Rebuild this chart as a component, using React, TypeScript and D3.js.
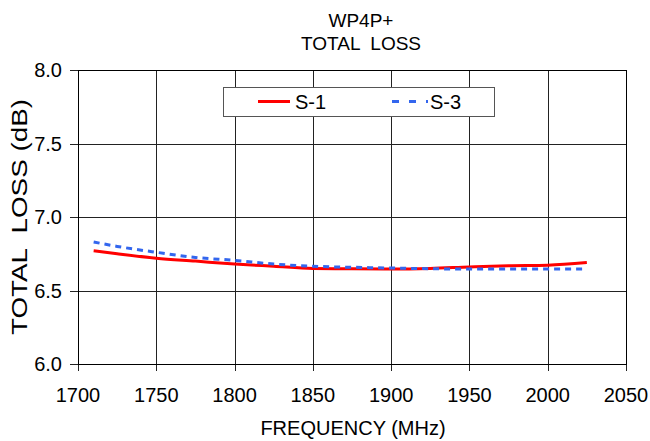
import React from 'react'
import * as d3 from 'd3'

// frequency (MHz) sampled along the curves
const freqs = [1710, 1725, 1750, 1775, 1800, 1825, 1850, 1875, 1900, 1925, 1950, 1975, 2000, 2025]
const s1 = [6.77, 6.75, 6.72, 6.7, 6.68, 6.665, 6.65, 6.648, 6.646, 6.65, 6.66, 6.668, 6.672, 6.69]
const s3 = [6.83, 6.8, 6.76, 6.725, 6.705, 6.68, 6.665, 6.658, 6.653, 6.648, 6.646, 6.646, 6.646, 6.646]
const xTicks = [1700, 1750, 1800, 1850, 1900, 1950, 2000, 2050]
const yTicks = [6.0, 6.5, 7.0, 7.5, 8.0]
const seriesNames = ['S-1', 'S-3']

const W = 650
const H = 441
const m = { left: 78, right: 626, top: 70, bottom: 364 }
const font = "'Liberation Sans', Arial, sans-serif"

export default function App() {
  const x = d3.scaleLinear().domain([1700, 2050]).range([m.left, m.right])
  const y = d3.scaleLinear().domain([6, 8]).range([m.bottom, m.top])

  const line = d3
    .line<number>()
    .x((_, i) => x(freqs[i]))
    .y((d) => y(d))
    .curve(d3.curveMonotoneX)

  const px = (v: number) => Math.round(v) + 0.5

  return (
    <svg
      width={W}
      height={H}
      style={{ position: 'absolute', left: 0, top: 0, background: '#fff' }}
      fontFamily={font}
    >
      {/* title */}
      <text x={361} y={27} textAnchor="middle" fontSize={19}>
        WP4P+
      </text>
      <text x={361} y={50} textAnchor="middle" fontSize={19} style={{ whiteSpace: 'pre' }}>
        {'TOTAL  LOSS'}
      </text>

      {/* grid */}
      <g stroke="#222" strokeWidth={1} shapeRendering="crispEdges">
        {xTicks.map((t) => (
          <line key={'gx' + t} x1={px(x(t))} x2={px(x(t))} y1={m.top} y2={m.bottom + 7} />
        ))}
        {yTicks.map((t) => (
          <line key={'gy' + t} x1={m.left - 8} x2={m.right} y1={px(y(t))} y2={px(y(t))} />
        ))}
        <rect
          x={px(m.left)}
          y={px(m.top)}
          width={Math.round(m.right - m.left)}
          height={Math.round(m.bottom - m.top)}
          fill="none"
          stroke="#000"
        />
      </g>

      {/* tick labels */}
      {xTicks.map((t) => (
        <text key={'tx' + t} x={x(t)} y={402} textAnchor="middle" fontSize={20}>
          {t}
        </text>
      ))}
      {yTicks.map((t) => (
        <text key={'ty' + t} x={62} y={y(t) + 7} textAnchor="end" fontSize={20}>
          {t.toFixed(1)}
        </text>
      ))}

      {/* axis titles */}
      <text x={353} y={435} textAnchor="middle" fontSize={20}>
        FREQUENCY (MHz)
      </text>
      <text
        transform={`translate(27,${(m.top + m.bottom) / 2}) rotate(-90)`}
        textAnchor="middle"
        fontSize={22}
        textLength={236}
        lengthAdjust="spacingAndGlyphs"
        style={{ whiteSpace: 'pre' }}
      >
        {'TOTAL  LOSS (dB)'}
      </text>

      {/* series */}
      <path d={line(s1) || ''} fill="none" stroke="#ff0000" strokeWidth={3} />
      <path
        d={line(s3) || ''}
        fill="none"
        stroke="#3366ee"
        strokeWidth={3}
        strokeDasharray="6,5"
      />

      {/* legend */}
      <g>
        <rect x={223.5} y={87.5} width={271} height={29} fill="#fff" stroke="#555" strokeWidth={1} />
        <line x1={258} x2={290} y1={101.5} y2={101.5} stroke="#ff0000" strokeWidth={3} />
        <text x={295} y={109} fontSize={20}>
          {seriesNames[0]}
        </text>
        <line
          x1={392}
          x2={428}
          y1={101.5}
          y2={101.5}
          stroke="#3366ee"
          strokeWidth={3}
          strokeDasharray="7,10"
        />
        <text x={430} y={109} fontSize={20}>
          {seriesNames[1]}
        </text>
      </g>
    </svg>
  )
}
